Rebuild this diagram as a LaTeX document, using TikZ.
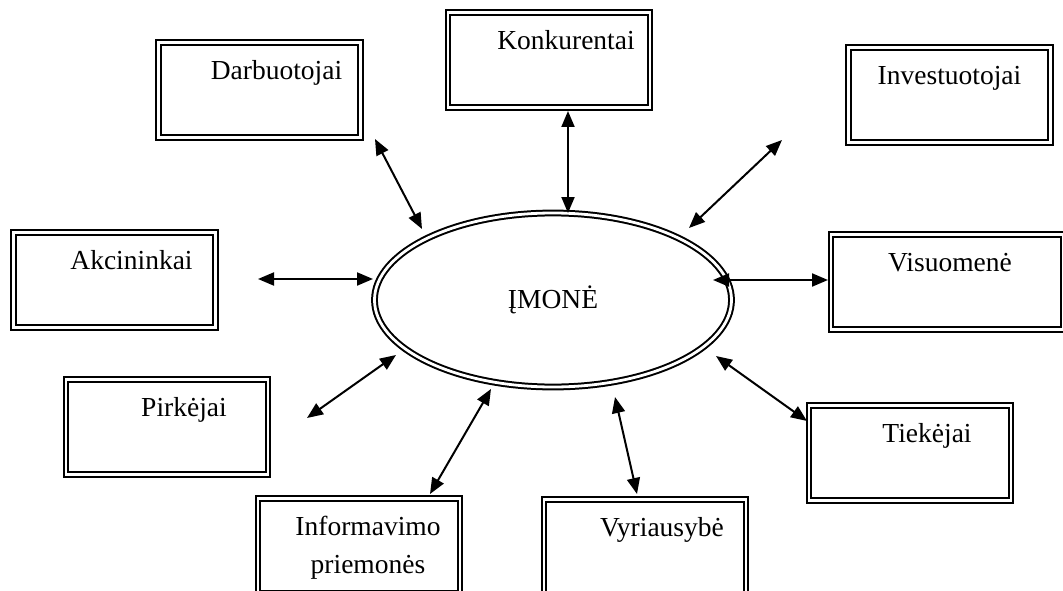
\documentclass[tikz,border=0pt]{standalone}
\usepackage{fontspec}
\setmainfont{Liberation Serif}
\usetikzlibrary{arrows.meta,shapes.geometric}

\begin{document}
\begin{tikzpicture}[x=1pt,y=1pt]
\tikzstyle{every node}+=[inner sep=0pt, font=\fontsize{27.5}{38}\selectfont]
\tikzstyle{box}=[draw, line width=2.2pt, double distance=2.5pt, minimum width=202pt, minimum height=95pt]
\tikzstyle{txt}=[anchor=north, xshift=17pt, yshift=-19pt, text height=19pt, align=center]
\tikzstyle{link}=[line width=2pt, {Triangle[length=16pt,width=13pt]}-{Triangle[length=16pt,width=13pt]}]
\path[use as bounding box, clip] (0,0) rectangle (1063,-591);
% centre
\node [draw, ellipse, line width=2pt, double distance=2.8pt, minimum width=357pt, minimum height=174pt] (imone) at (553,-300) {ĮMONĖ};
% boxes
\node [box, label={[txt]north:Darbuotojai}] (darb) at (259.5,-90) {};
\node [box, label={[txt]north:Konkurentai}] (konk) at (549,-60) {};
\node [box, label={[txt, xshift=-17pt]north:Investuotojai}] (inv) at (949.5,-95) {};
\node [box, label={[txt]north:Akcininkai}] (akc) at (114.5,-280) {};
\node [box, minimum width=232pt, label={[txt, xshift=-14pt]north:Visuomenė}] (vis) at (947,-282) {};
\node [box, label={[txt]north:Pirkėjai}] (pirk) at (167,-427) {};
\node [box, label={[txt]north:Tiekėjai}] (tiek) at (910,-453) {};
\node [box, label={[txt, xshift=-8pt, text height=57pt]north:Informavimo\\priemonės}] (info) at (359,-546) {};
\node [box, label={[txt]north:Vyriausybė}] (vyr) at (645,-547) {};
% arrow ends
\coordinate (darb-a) at (375,-139);  \coordinate (darb-b) at (422,-229);
\coordinate (konk-a) at (568,-111);  \coordinate (konk-b) at (568,-213);
\coordinate (inv-a) at (782,-140);   \coordinate (inv-b) at (689,-228);
\coordinate (akc-a) at (258,-279);   \coordinate (akc-b) at (373,-279);
\coordinate (vis-a) at (713,-280);   \coordinate (vis-b) at (828,-280);
\coordinate (pirk-a) at (307,-418);  \coordinate (pirk-b) at (396,-355);
\coordinate (tiek-a) at (716,-356);  \coordinate (tiek-b) at (807,-421);
\coordinate (info-a) at (491,-389);  \coordinate (info-b) at (430,-494);
\coordinate (vyr-a) at (615,-397);   \coordinate (vyr-b) at (637,-494);
\draw [link] (darb-a) -- (darb-b);
\draw [link] (konk-a) -- (konk-b);
\draw [link] (inv-a) -- (inv-b);
\draw [link] (akc-a) -- (akc-b);
\draw [link] (vis-a) -- (vis-b);
\draw [link] (pirk-a) -- (pirk-b);
\draw [link] (tiek-a) -- (tiek-b);
\draw [link] (info-a) -- (info-b);
\draw [link] (vyr-a) -- (vyr-b);
\end{tikzpicture}
\end{document}
